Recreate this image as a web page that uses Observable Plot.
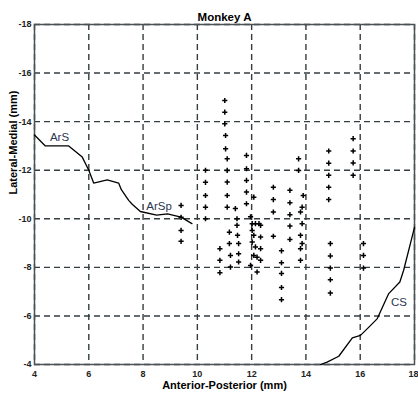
<!DOCTYPE html>
<html><head><meta charset="utf-8">
<script src="https://cdn.jsdelivr.net/npm/d3@7"></script>
<script src="https://cdn.jsdelivr.net/npm/@observablehq/plot@0.6"></script>
<style>body{margin:0;background:#fff}</style>
</head><body><div id="chart"></div>
<script>
const xTicks = [4, 6, 8, 10, 12, 14, 16, 18];
const yTicks = [-18, -16, -14, -12, -10, -8, -6, -4];

// Arcuate sulcus (ArS / ArSp)
const arsX = [4.0, 4.4, 5.26, 5.76, 6.0, 6.18, 6.68, 7.1, 7.2, 7.47, 7.6, 7.9, 8.5, 8.9, 9.4, 9.8];
const arsY = [-13.45, -13.0, -13.0, -12.54, -12.0, -11.47, -11.6, -11.47, -11.2, -10.76, -10.6, -10.3, -10.15, -10.2, -10.07, -9.8];

// Central sulcus (CS)
const csX = [14.54, 14.78, 15.21, 15.71, 16.01, 16.32, 16.63, 17.05, 17.46, 17.6, 18.0];
const csY = [-4.0, -4.1, -4.34, -5.1, -5.2, -5.54, -5.89, -6.92, -7.4, -7.88, -9.65];

// Recording sites
const siteX = [
  9.4, 9.4, 9.4, 9.4,
  10.3, 10.3, 10.3, 10.3, 10.3,
  10.83, 10.83, 10.83,
  11.01, 11.01, 11.01, 11.04, 11.04, 11.1, 11.1, 11.1, 11.1, 11.1, 11.18, 11.18, 11.22, 11.22,
  11.4, 11.46, 11.46, 11.48, 11.52, 11.52, 11.52,
  11.81, 11.81, 11.81, 11.81, 11.81,
  12.08, 11.96, 12.02, 12.14, 12.27, 12.02, 12.08, 12.02, 12.14, 12.08, 12.2, 11.96, 12.2, 12.33, 12.33, 12.33, 12.33,
  12.8, 12.8, 12.8, 12.8,
  13.1, 13.1, 13.1, 13.1, 13.1,
  13.41, 13.41, 13.41, 13.41, 13.41,
  13.73, 13.73, 13.9, 13.86, 13.8, 13.86, 13.8, 13.86, 13.8, 13.8,
  14.84, 14.84, 14.84, 14.84, 14.84,
  14.9, 14.9, 14.9, 14.9, 14.9,
  15.74, 15.74, 15.74, 15.74,
  16.12, 16.12, 16.12
];
const siteY = [
  -10.55, -10.06, -9.52, -9.07,
  -12.0, -11.5, -10.96, -10.48, -10.0,
  -8.77, -8.29, -7.78,
  -14.87, -14.39, -13.91, -13.43, -12.88, -12.47, -11.99, -11.51, -10.96, -10.48, -9.45, -8.98, -8.49, -8.01,
  -10.42, -10.0, -9.73, -9.32, -8.98, -8.56, -8.22,
  -12.61, -12.06, -11.58, -11.1, -10.62,
  -10.89, -10.08, -9.8, -9.8, -9.8, -9.52, -9.32, -9.04, -8.84, -8.49, -8.42, -8.08, -7.81, -9.73, -9.25, -8.77, -8.29,
  -11.30, -10.79, -10.28, -9.28,
  -8.68, -8.19, -7.75, -7.17, -6.67,
  -11.17, -10.66, -10.17, -9.7, -9.15,
  -12.47, -11.99, -10.96, -10.48, -10.28, -9.8, -9.32, -8.98, -8.77, -8.29,
  -12.79, -12.29, -11.79, -11.30, -10.79,
  -8.98, -8.47, -7.97, -7.49, -6.94,
  -13.3, -12.79, -12.3, -11.79,
  -8.98, -8.49, -7.97
];

const curveLabels = ["ArS", "ArSp", "CS"];
const curveLabelX = [4.92, 8.59, 17.43];
const curveLabelY = [-13.35, -10.51, -6.56];

const titleText = "Monkey A";
const xLabel = "Anterior-Posterior (mm)";
const yLabel = "Lateral-Medial (mm)";

const ars = arsX.map((x, i) => ({x, y: arsY[i]}));
const cs = csX.map((x, i) => ({x, y: csY[i]}));
const sites = siteX.map((x, i) => ({x, y: siteY[i]}));
const labs = curveLabels.map((t, i) => ({t, x: curveLabelX[i], y: curveLabelY[i]}));

const gridStyle = {stroke: "#343d40", strokeOpacity: 1, strokeWidth: 1.4, strokeDasharray: "6,4"};
const lastX = xTicks[xTicks.length - 1];

const chart = Plot.plot({
  width: 418, height: 398,
  marginLeft: 34, marginRight: 4, marginTop: 24, marginBottom: 34,
  style: {fontFamily: "Liberation Sans, Arial, sans-serif", fontSize: "9px", background: "#fff", color: "#000"},
  x: {domain: [4, 18]},
  y: {domain: [-4, -18]},
  marks: [
    Plot.gridX(xTicks, gridStyle),
    Plot.gridY(yTicks, gridStyle),
    Plot.frame({stroke: "#4a5254", strokeWidth: 1.5}),
    Plot.axisX(xTicks.slice(0, -1), {tickSize: 0, tickPadding: 6, tickFormat: d => String(d), label: null, fontWeight: "bold", fill: "#222"}),
    Plot.axisX([lastX], {tickSize: 0, tickPadding: 6, tickFormat: d => String(d), label: null, fontWeight: "bold", fill: "#222", textAnchor: "end", dx: 4}),
    Plot.axisY(yTicks, {tickSize: 0, tickPadding: 3, tickFormat: d => String(d), label: null, fontWeight: "bold", fill: "#222"}),
    Plot.line(ars, {x: "x", y: "y", stroke: "#000", strokeWidth: 1.3}),
    Plot.line(cs, {x: "x", y: "y", stroke: "#000", strokeWidth: 1.3}),
    Plot.dot(sites, {x: "x", y: "y", symbol: "plus", r: 1.8, stroke: "#000", strokeWidth: 1.5}),
    Plot.text(labs, {x: "x", y: "y", text: "t", fontSize: 11.5, fill: "#2b3650"}),
    Plot.text([titleText], {frameAnchor: "top", dy: -12, fontSize: 11.5, fontWeight: "bold", fill: "#000"}),
    Plot.text([xLabel], {frameAnchor: "bottom", dy: 24, fontSize: 11, fontWeight: "bold", fill: "#000"}),
    Plot.text([yLabel], {frameAnchor: "left", dx: -21, rotate: -90, fontSize: 11, fontWeight: "bold", fill: "#000"})
  ]
});
document.getElementById("chart").appendChild(chart);
</script>
</body></html>
